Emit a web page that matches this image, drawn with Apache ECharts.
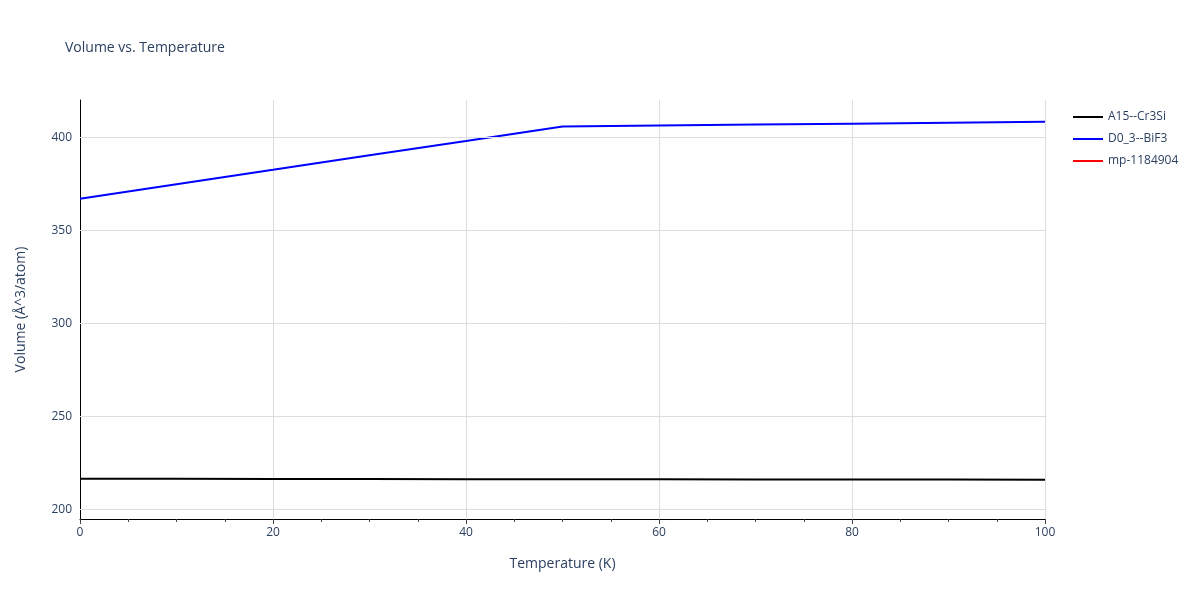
<!DOCTYPE html>
<html><head><meta charset="utf-8">
<script src="https://cdn.jsdelivr.net/npm/echarts@6/dist/echarts.min.js"></script>
<style>html,body{margin:0;padding:0;background:#fff}#c{width:1200px;height:600px}</style>
</head><body><div id="c"></div>
<script>
const temps = [0,10,20,30,40,50,60,70,80,90,100];
const a15 = [216.6,216.55,216.5,216.45,216.4,216.35,216.3,216.25,216.2,216.15,216.1];
const d03 = [367.0,374.8,382.5,390.3,398.0,405.8,406.3,406.8,407.3,407.8,408.3];
const mp = [];
const names = ['A15--Cr3Si','D0_3--BiF3','mp-1184904'];
const colors = ['#000000','#0000ff','#ff0000'];
const txt = '#2a3f5f';
const chart = echarts.init(document.getElementById('c'));
const mk = (arr)=>arr.map((v,i)=>[temps[i],v]);
chart.setOption({
  animation:false,
  textStyle:{fontFamily:'"Open Sans", sans-serif'},
  title:{text:'Volume vs. Temperature',left:60,top:36,textStyle:{fontSize:14,fontWeight:'normal',color:txt}},
  legend:{orient:'vertical',left:1068,top:106,itemWidth:30,itemHeight:2,itemGap:10,icon:'rect',
    textStyle:{fontSize:12,color:txt},data:names},
  grid:{left:80,right:155,top:100,bottom:81},
  xAxis:{type:'value',min:0,max:100,interval:20,name:'Temperature (K)',nameLocation:'middle',nameGap:38,
    nameTextStyle:{fontSize:14,color:txt},
    axisLine:{show:true,lineStyle:{color:'#000'}},
    axisTick:{show:true,length:5,lineStyle:{color:'#444'}},
    minorTick:{show:true,splitNumber:4,length:3,lineStyle:{color:'#444'}},
    axisLabel:{color:txt,fontSize:12},
    splitLine:{show:true,lineStyle:{color:'#dddddd'}}},
  yAxis:{type:'value',min:195,max:420,name:'Volume (Å^3/atom)',nameLocation:'middle',nameGap:52,
    nameTextStyle:{fontSize:14,color:txt},
    axisLine:{show:true,onZero:false,lineStyle:{color:'#000'}},axisTick:{show:false},
    axisLabel:{color:txt,fontSize:12,customValues:[200,250,300,350,400]},
    splitLine:{show:false}},
  series:[
    {type:'line',name:'__grid',data:[],silent:true,markLine:{symbol:'none',silent:true,label:{show:false},
      lineStyle:{color:'#dddddd',type:'solid',width:1},data:[200,250,300,350,400].map(v=>({yAxis:v}))}},
    {name:names[0],type:'line',data:mk(a15),showSymbol:false,lineStyle:{width:2,color:colors[0]},itemStyle:{color:colors[0]},z:3},
    {name:names[1],type:'line',data:mk(d03),showSymbol:false,lineStyle:{width:2,color:colors[1]},itemStyle:{color:colors[1]},z:3},
    {name:names[2],type:'line',data:mp,showSymbol:false,lineStyle:{width:2,color:colors[2]},itemStyle:{color:colors[2]},z:3}
  ]
});
</script></body></html>
